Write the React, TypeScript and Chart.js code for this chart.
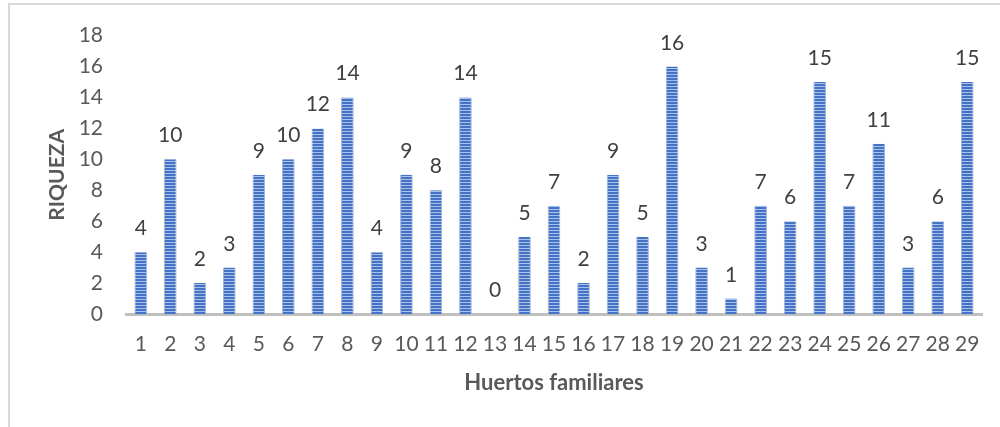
import React, { useEffect, useRef } from "react";
import { Chart, registerables } from "chart.js";

Chart.register(...registerables);

const categories = [
  "1", "2", "3", "4", "5", "6", "7", "8", "9", "10",
  "11", "12", "13", "14", "15", "16", "17", "18", "19", "20",
  "21", "22", "23", "24", "25", "26", "27", "28", "29",
];
const riqueza = [4, 10, 2, 3, 9, 10, 12, 14, 4, 9, 8, 14, 0, 5, 7, 2, 9, 5, 16, 3, 1, 7, 6, 15, 7, 11, 3, 6, 15];
const yMin = 0;
const yMax = 18;
const yStep = 2;
const xTitle = "Huertos familiares";
const yTitle = "RIQUEZA";

const FONT = "Lato";
const TEXT = "#595959";

function makePattern(): CanvasPattern | string {
  const c = document.createElement("canvas");
  c.width = 4;
  c.height = 3;
  const g = c.getContext("2d");
  if (!g) return "#4472C4";
  g.fillStyle = "#4472C4";
  g.fillRect(0, 0, 4, 3);
  g.fillStyle = "#A9BFE8";
  g.fillRect(0, 2, 4, 1);
  return g.createPattern(c, "repeat") || "#4472C4";
}

const frame = {
  id: "frame",
  beforeDraw(chart: any) {
    const ctx = chart.ctx;
    ctx.save();
    ctx.fillStyle = "#ffffff";
    ctx.fillRect(0, 0, chart.width, chart.height);
    ctx.strokeStyle = "#D9D9D9";
    ctx.lineWidth = 2;
    ctx.beginPath();
    ctx.moveTo(9, chart.height + 5);
    ctx.lineTo(9, 4);
    ctx.lineTo(chart.width + 5, 4);
    ctx.stroke();
    ctx.restore();
  },
};

const valueLabels = {
  id: "valueLabels",
  afterDatasetsDraw(chart: any) {
    const ctx = chart.ctx;
    const meta = chart.getDatasetMeta(0);
    ctx.save();
    ctx.font = `21px ${FONT}`;
    ctx.fillStyle = "#404040";
    ctx.textAlign = "center";
    ctx.textBaseline = "alphabetic";
    meta.data.forEach((el: any, i: number) => {
      ctx.fillText(String(riqueza[i]), el.x, el.y - 17);
    });
    ctx.restore();
  },
};

export default function App() {
  const ref = useRef<HTMLCanvasElement>(null);
  useEffect(() => {
    if (!ref.current) return;
    const chart = new Chart(ref.current, {
      type: "bar",
      data: {
        labels: categories,
        datasets: [
          {
            data: riqueza,
            backgroundColor: makePattern() as any,
            borderColor: "#9DB5E2",
            borderWidth: { left: 1, right: 1, top: 0, bottom: 0 } as any,
            borderSkipped: false,
            categoryPercentage: 1,
            barPercentage: 0.43,
          },
        ],
      },
      options: {
        responsive: false,
        animation: false,
        layout: { padding: { left: 0, top: 32, right: 18, bottom: 0 } },
        plugins: {
          legend: { display: false },
          tooltip: { enabled: false },
        },
        scales: {
          x: {
            afterFit: (s: any) => {
              s.height = 113;
            },
            grid: { display: false, drawTicks: false },
            border: { display: true, color: "#BFBFBF", width: 3 },
            ticks: {
              color: TEXT,
              font: { family: FONT, size: 21 },
              padding: 18,
              maxRotation: 0,
              autoSkip: false,
            },
            title: {
              display: true,
              text: xTitle,
              color: TEXT,
              font: { family: FONT, size: 22, weight: "bold" },
              padding: { top: 0, bottom: 31 },
            },
          },
          y: {
            min: yMin,
            max: yMax,
            afterFit: (s: any) => {
              s.width = 126;
            },
            grid: { display: false, drawTicks: false },
            border: { display: false },
            ticks: {
              stepSize: yStep,
              color: TEXT,
              font: { family: FONT, size: 21 },
              padding: 23,
            },
            title: {
              display: true,
              text: yTitle,
              color: TEXT,
              font: { family: FONT, size: 21, weight: "bold" },
              padding: { top: 45, bottom: 0 },
            },
          },
        },
      },
      plugins: [frame, valueLabels],
    });
    return () => chart.destroy();
  }, []);
  return (
    <div style={{ position: "fixed", left: 0, top: 0, width: 1000, height: 427, background: "#fff" }}>
      <canvas ref={ref} width={1000} height={427} style={{ display: "block", width: 1000, height: 427 }} />
    </div>
  );
}
